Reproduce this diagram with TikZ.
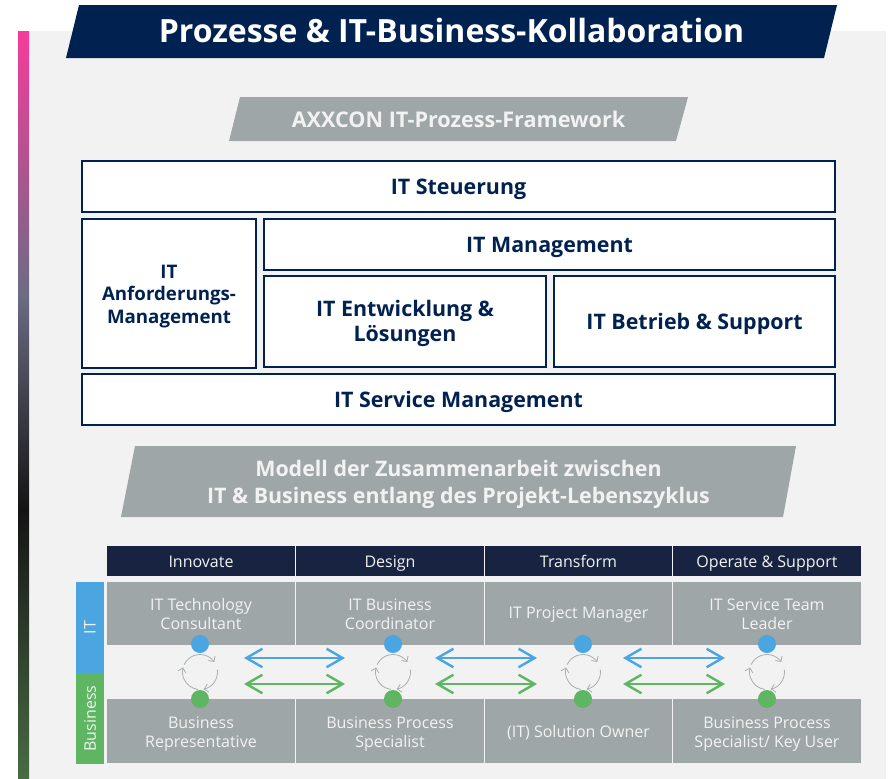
\documentclass[tikz,border=0pt]{standalone}
\usepackage{fontspec}
\usepackage{tikz}
\usepackage{xcolor}
\setmainfont{Open Sans}
\usetikzlibrary{arrows.meta}

\definecolor{navy}{HTML}{012251}
\definecolor{headnavy}{HTML}{182341}
\definecolor{panel}{HTML}{F2F2F2}
\definecolor{slate}{HTML}{9FA6A7}
\definecolor{itblue}{HTML}{4AA5E0}
\definecolor{bizgreen}{HTML}{5EB663}
\definecolor{ring}{HTML}{A8AEB1}

\definecolor{stripgreen}{HTML}{4A6B45}
\definecolor{stripdark}{HTML}{141414}
\definecolor{stripgrey}{HTML}{6C6C84}
\definecolor{strippink}{HTML}{F73B9A}
\pgfdeclareverticalshading{stripshade}{100bp}{
  color(0bp)=(stripgreen);
  color(25bp)=(stripgreen);
  color(43bp)=(stripdark);
  color(57.5bp)=(stripgrey);
  color(75bp)=(strippink);
  color(100bp)=(strippink)}

\tikzset{
  box/.style={draw=navy,line width=2pt,fill=white,text=navy,font=\bfseries\fontsize{21.4}{25}\selectfont,align=center,inner sep=0pt,text height=#1,text depth=5pt},
  box/.default=21pt,
  head/.style={fill=headnavy,text=panel,font=\fontsize{16}{19}\selectfont,inner sep=0pt,minimum width=188,minimum height=30,text height=15pt,text depth=2.6pt},
  role/.style={fill=slate,text=panel,font=\fontsize{16}{19}\selectfont,align=center,inner sep=0pt,minimum width=188,text height=#1,text depth=2.4pt},
  side/.style={text=panel,font=\fontsize{16}{19}\selectfont,rotate=90,inner sep=0pt,minimum width=91,minimum height=28},
  dot/.style={circle,inner sep=0pt,minimum size=18},
  link/.style={<->,>={Straight Barb[length=16pt,width=18.5pt,line width=2.4pt]},line width=2pt},
  turn/.style={->,>={Straight Barb[length=4pt,width=8pt]},draw=ring,line width=0.8pt},
  band/.style={text=panel,font=\bfseries,align=center,inner sep=0pt}
}

\begin{document}
\begin{tikzpicture}[x=1pt,y=-1pt]
\useasboundingbox (0,0) rectangle (889,779);
\fill[panel] (29,31) rectangle (886,779);
\shade[shading=stripshade] (18,31) rectangle (29,779);

% bands
\fill[navy] (79,5) -- (837,5) -- (824,58) -- (66,58) -- cycle;
\node[band,text=white,font=\bfseries\fontsize{32}{38}\selectfont] (title) at (451.5,30.5) {Prozesse \& IT-Business-Kollaboration};
\fill[slate] (240,97) -- (688,97) -- (676,141) -- (229,141) -- cycle;
\node[band,font=\bfseries\fontsize{21.6}{25}\selectfont] (frame) at (458.5,119.5) {AXXCON IT-Prozess-Framework};
\fill[slate] (135,446) -- (796,446) -- (783,517) -- (121,517) -- cycle;
\node[band,font=\bfseries\fontsize{21.4}{27}\selectfont] (model) at (458.5,484) {Modell der Zusammenarbeit zwischen\\IT \& Business entlang des Projekt-Lebenszyklus};

% framework
\node[box,minimum width=753,minimum height=51] (steuerung) at (458.5,186) {IT Steuerung};
\node[box=64pt,minimum width=174,minimum height=149,font=\bfseries\fontsize{18.7}{22.5}\selectfont] (anforderung) at (169,293.5) {IT\\Anforderungs-\\Management};
\node[box,minimum width=571,minimum height=51] (management) at (549.5,244.5) {IT Management};
\node[box=45pt,minimum width=282,minimum height=91] (entwicklung) at (405,321.5) {IT Entwicklung \&\\Lösungen};
\node[box,minimum width=281,minimum height=91] (betrieb) at (694.5,321.5) {IT Betrieb \& Support};
\node[box,minimum width=753,minimum height=51] (service) at (458.5,399.5) {IT Service Management};

% table
\node[head] (h1) at (201,561) {Innovate};
\node[head] (h2) at (390,561) {Design};
\node[head,minimum width=187] (h3) at (578.5,561) {Transform};
\node[head] (h4) at (767,561) {Operate \& Support};

\node[side,fill=itblue] (it) at (90,627.5) {IT};
\node[side,fill=bizgreen] (biz) at (90,718.5) {Business};

\node[role=34pt,minimum height=63] (r1) at (201,613.5) {IT Technology\\Consultant};
\node[role=34pt,minimum height=63] (r2) at (390,613.5) {IT Business\\Coordinator};
\node[role=13pt,minimum height=63,minimum width=187] (r3) at (578.5,613.5) {IT Project Manager};
\node[role=34pt,minimum height=63] (r4) at (767,613.5) {IT Service Team\\Leader};
\node[role=35pt,minimum height=64] (b1) at (201,731) {Business\\Representative};
\node[role=35pt,minimum height=64] (b2) at (390,731) {Business Process\\Specialist};
\node[role=15pt,minimum height=64,minimum width=187] (b3) at (578.5,731) {(IT) Solution Owner};
\node[role=35pt,minimum height=64] (b4) at (767,731) {Business Process\\Specialist/ Key User};

% dots and rings
\foreach \i/\x in {1/200,2/393,3/583,4/767}{
  \node[dot,fill=itblue] (up\i) at (\x,644) {};
  \node[dot,fill=bizgreen] (low\i) at (\x,699) {};
  \coordinate (mid\i) at (\x,672);
  \draw[turn] ([shift={(155:17.5pt)}]mid\i) arc[start angle=155,end angle=35,radius=17.5pt];
  \draw[turn] ([shift={(8:17.5pt)}]mid\i) arc[start angle=8,end angle=-78,radius=17.5pt];
  \draw[turn] ([shift={(-97:17.5pt)}]mid\i) arc[start angle=-97,end angle=-195,radius=17.5pt];
}

% arrows
\foreach \i/\a/\b in {1/244/345,2/435/537,3/623/725}{
  \coordinate (bl\i) at (\a,658);
  \coordinate (br\i) at (\b,658);
  \coordinate (gl\i) at (\a,684);
  \coordinate (gr\i) at (\b,684);
  \draw[link,itblue] (bl\i) -- (br\i);
  \draw[link,bizgreen] (gl\i) -- (gr\i);
}
\end{tikzpicture}
\end{document}
